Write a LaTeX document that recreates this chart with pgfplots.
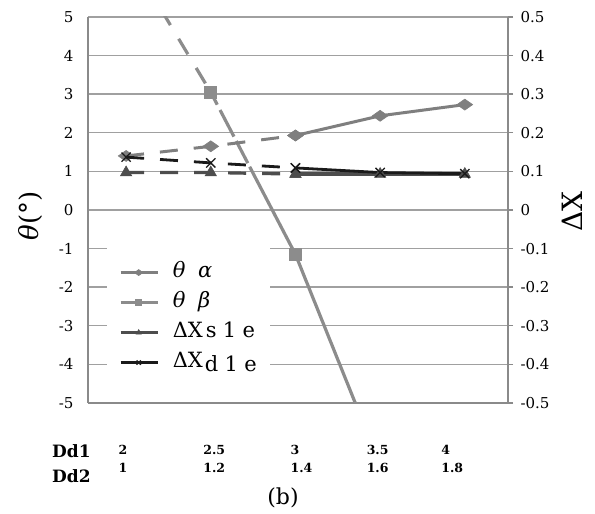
\documentclass[border=0pt]{standalone}
\usepackage{fontspec}
\setmainfont{DejaVu Serif}
\newfontfamily\legfont[LetterSpace=30]{DejaVu Serif}
\usepackage{pgfplots}
\pgfplotsset{compat=1.18}
\definecolor{cA}{HTML}{7F7F7F}
\definecolor{cB}{HTML}{8C8C8C}
\definecolor{cC}{HTML}{4D4D4D}
\definecolor{cD}{HTML}{1A1A1A}
\definecolor{gridc}{HTML}{A0A0A0}
\definecolor{axc}{HTML}{8A8A8A}
\pgfplotsset{
 sA/.style={color=cA, line width=3pt, mark=diamond*, mark size=5.5pt, mark options={solid, xscale=1.9, fill=cA, line width=0.6pt}},
 sB/.style={color=cB, line width=3.2pt, mark=square*, mark size=6pt, mark options={solid, fill=cB, line width=0.6pt}},
 sC/.style={color=cC, line width=3.2pt, mark=triangle*, mark size=6.5pt, mark options={solid, fill=cC, line width=0.6pt}},
 sD/.style={color=cD, line width=2.8pt, mark=x, mark size=6.5pt, mark options={solid, line width=1.3pt}},
 dsh/.style={dash pattern=on 18pt off 16pt},
}
\begin{document}
\begin{tikzpicture}
\useasboundingbox (-88pt,-111pt) rectangle (507pt,403pt);
\begin{axis}[name=ax1, at={(0,0)}, anchor=south west, scale only axis,
 width=420pt, height=386pt,
 xmin=-0.45, xmax=4.51, ymin=-5, ymax=5, ytick={-5,-4,-3,-2,-1,0,1,2,3,4,5},
 axis x line*=bottom, axis y line*=left,
 xtick={-0.09,0.91,1.94,2.84,3.72},
 xticklabels={{2\\1},{2.5\\1.2},{3\\1.4},{3.5\\1.6},{4\\1.8}},
 xticklabel style={anchor=north west, align=left, inner sep=0pt, font=\fontsize{12.5}{18}\selectfont\bfseries, yshift=-42pt},
 major tick length=0pt,
 ymajorgrids, grid style={gridc, line width=1.4pt},
 axis line style={axc, line width=1.2pt},
 yticklabel style={font=\fontsize{15}{18}\selectfont, xshift=-11pt},
 /pgf/number format/assume math mode=true,
 ylabel={\fontsize{26}{28}\selectfont\textit{θ}(°)},
 ylabel style={at={(axis description cs:-0.138,0.484)}, anchor=center},
]
\addplot[sB, dsh, forget plot] coordinates {(0,6.7) (1,3.05)};
\addplot[sB, dash pattern=on 14pt off 6pt on 30pt off 5pt on 25pt off 4pt on 1000pt, forget plot] coordinates {(1,3.05) (2,-1.15) (3,-6.6)};
\addplot[sA, dsh, forget plot] coordinates {(0,1.4) (1,1.65) (2,1.93)};
\addplot[sA, forget plot] coordinates {(2,1.93) (3,2.44) (4,2.73)};
\end{axis}
\begin{axis}[at={(0,0)}, anchor=south west, scale only axis,
 width=420pt, height=386pt,
 xmin=-0.45, xmax=4.51, ymin=-0.5, ymax=0.5,
 ytick={-0.5,-0.4,-0.3,-0.2,-0.1,0,0.1,0.2,0.3,0.4,0.5},
 axis x line=none, axis y line*=right,
 tick align=outside, major tick length=5pt, tick style={axc, line width=1.4pt},
 axis line style={axc, line width=1.2pt},
 yticklabel style={font=\fontsize{15}{18}\selectfont, xshift=4pt},
 /pgf/number format/assume math mode=true,
 /pgf/number format/fixed, /pgf/number format/precision=1,
 ylabel={\fontsize{28}{30}\selectfont ΔX},
 ylabel style={at={(axis description cs:1.152,0.497)}, anchor=center},
 legend style={at={(0.045,0.42)}, anchor=north west, fill=white, draw=none,
   font=\fontsize{21}{24}\selectfont, row sep=7pt, inner xsep=12pt, inner ysep=20pt,
   nodes={inner sep=1.5pt, text height=15pt, text depth=5pt},
   /tikz/every odd column/.append style={column sep=12pt}},
 legend cell align=left,
 legend image code/.code={\draw[mark repeat=2,mark phase=2,#1] plot coordinates {(0pt,0pt) (18pt,0pt) (37pt,0pt)};},
 legend image post style={mark size=3pt},
]
\addplot[sC, dsh, forget plot] coordinates {(0,0.097) (1,0.097) (2,0.093)};
\addplot[sC, forget plot] coordinates {(2,0.093) (3,0.093) (4,0.093)};
\addplot[sD, dsh, forget plot] coordinates {(0,0.137) (1,0.122) (2,0.109)};
\addplot[sD, forget plot] coordinates {(2,0.109) (3,0.097) (4,0.094)};
\addlegendimage{sA}\addlegendentry{\textit{θ\hspace{0.6em}α}}
\addlegendimage{sB}\addlegendentry{\textit{θ\hspace{0.6em}β}}
\addlegendimage{sC}\addlegendentry{ΔX\hspace{3pt}{\legfont s1e}}
\addlegendimage{sD}\addlegendentry{ΔX\hspace{2pt}\raisebox{-4pt}{\legfont d1e}}
\end{axis}
\node[anchor=base west, inner sep=0pt, font=\fontsize{17}{20}\selectfont\bfseries] at ([xshift=-36pt,yshift=-55pt]ax1.south west) {Dd1};
\node[anchor=base west, inner sep=0pt, font=\fontsize{17}{20}\selectfont\bfseries] at ([xshift=-36pt,yshift=-80pt]ax1.south west) {Dd2};
\node[anchor=center, inner sep=0pt, font=\fontsize{22}{24}\selectfont] at ([xshift=195pt,yshift=-95pt]ax1.south west) {(b)};
\end{tikzpicture}
\end{document}
